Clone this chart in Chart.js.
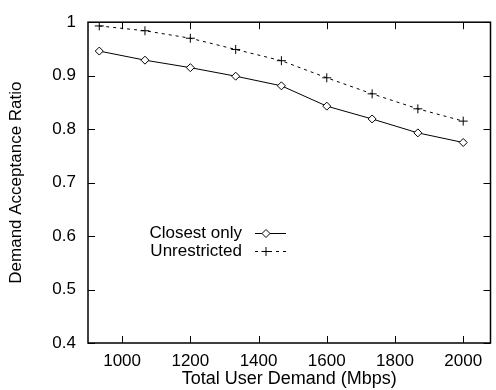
<!DOCTYPE html>
<html>
<head>
<meta charset="utf-8">
<script src="https://cdn.jsdelivr.net/npm/chart.js@4/dist/chart.umd.min.js"></script>
<style>
  html, body { margin: 0; padding: 0; background: #fff; }
  #wrap { width: 496px; height: 390px; }
</style>
</head>
<body>
<div id="wrap"><canvas id="chart" width="496" height="390"></canvas></div>
<script>
// Data
const demand = [933, 1067, 1200, 1333, 1467, 1600, 1733, 1867, 2000];
const closestOnly = [0.946, 0.929, 0.915, 0.899, 0.881, 0.843, 0.819, 0.793, 0.775];
const unrestricted = [0.993, 0.984, 0.970, 0.949, 0.928, 0.896, 0.866, 0.838, 0.815];
const xTicks = [1000, 1200, 1400, 1600, 1800, 2000];
const yTicks = [0.4, 0.5, 0.6, 0.7, 0.8, 0.9, 1];
const seriesNames = ['Closest only', 'Unrestricted'];

const FONT = "'Liberation Sans', Arial, sans-serif";
Chart.defaults.font.family = FONT;
Chart.defaults.color = '#000';

const toPoints = ys => demand.map((x, i) => ({ x: x, y: ys[i] }));

// gnuplot-style frame with inward ticks on all four sides
const framePlugin = {
    id: 'frame',
    afterDatasetsDraw(chart) {
        const { ctx, chartArea: a, scales } = chart;
        const len = 7;
        ctx.save();
        ctx.strokeStyle = '#000';
        ctx.lineWidth = 1;
        ctx.beginPath();
        xTicks.forEach(v => {
            const px = Math.round(scales.x.getPixelForValue(v)) + 0.5;
            ctx.moveTo(px, a.bottom); ctx.lineTo(px, a.bottom - len);
            ctx.moveTo(px, a.top); ctx.lineTo(px, a.top + len);
        });
        yTicks.forEach(v => {
            const py = Math.round(scales.y.getPixelForValue(v)) + 0.5;
            ctx.moveTo(a.left, py); ctx.lineTo(a.left + len, py);
            ctx.moveTo(a.right, py); ctx.lineTo(a.right - len, py);
        });
        ctx.stroke();
        ctx.lineWidth = 1.5;
        ctx.strokeRect(a.left, a.top, a.right - a.left, a.bottom - a.top);
        ctx.restore();
    }
};

// legend inside the plot: text right-aligned, sample line to its right
const legendPlugin = {
    id: 'gpLegend',
    afterDatasetsDraw(chart) {
        const { ctx } = chart;
        const textRight = 242, x0 = 255, x1 = 286, xm = 266;
        const rows = [233, 251];
        ctx.save();
        ctx.font = '17px ' + FONT;
        ctx.fillStyle = '#000';
        ctx.textAlign = 'right';
        ctx.textBaseline = 'middle';
        rows.forEach((y, i) => {
            ctx.fillText(seriesNames[i], textRight, y);
            const ds = chart.data.datasets[i];
            ctx.beginPath();
            ctx.setLineDash(ds.borderDash || []);
            ctx.strokeStyle = '#000';
            ctx.lineWidth = 1;
            ctx.moveTo(x0, y + 0.5); ctx.lineTo(x1, y + 0.5);
            ctx.stroke();
            ctx.setLineDash([]);
            ctx.fillStyle = '#fff';
            Chart.helpers.drawPoint(ctx, {
                pointStyle: ds.pointStyle,
                radius: ds.pointRadius,
                borderWidth: 1
            }, xm, y + 0.5);
            ctx.fillStyle = '#000';
        });
        ctx.restore();
    }
};

new Chart(document.getElementById('chart'), {
    type: 'line',
    data: {
        datasets: [
            {
                label: seriesNames[0],
                data: toPoints(closestOnly),
                borderColor: '#000',
                borderWidth: 1,
                pointStyle: 'rectRot',
                pointRadius: 4,
                pointBackgroundColor: '#fff',
                pointBorderColor: '#000',
                pointBorderWidth: 1,
                tension: 0
            },
            {
                label: seriesNames[1],
                data: toPoints(unrestricted),
                borderColor: '#000',
                borderWidth: 1,
                borderDash: [3, 4],
                pointStyle: 'cross',
                pointRadius: 4.5,
                pointBorderColor: '#000',
                pointBorderWidth: 1,
                tension: 0
            }
        ]
    },
    options: {
        responsive: false,
        animation: false,
        layout: { padding: { top: 12, right: 1, left: 0, bottom: 0 } },
        plugins: { legend: { display: false }, tooltip: { enabled: false } },
        scales: {
            x: {
                type: 'linear',
                min: 900,
                max: 2080,
                afterBuildTicks: s => { s.ticks = xTicks.map(v => ({ value: v })); },
                afterFit: s => { s.height = 47; },
                grid: { display: false, drawTicks: false },
                border: { display: false },
                ticks: { font: { size: 17 }, padding: 8, maxRotation: 0, autoSkip: false, callback: v => String(v) },
                title: { display: true, text: 'Total User Demand (Mbps)', font: { size: 18 }, padding: { top: -6, bottom: 0 } }
            },
            y: {
                min: 0.4,
                max: 1,
                afterBuildTicks: s => { s.ticks = yTicks.map(v => ({ value: v })); },
                afterFit: s => { s.width = 88; },
                grid: { display: false, drawTicks: false },
                border: { display: false },
                ticks: {
                    font: { size: 17 },
                    padding: 12,
                    callback: v => String(Math.round(v * 10) / 10)
                },
                title: { display: true, text: 'Demand Acceptance Ratio', font: { size: 17 }, padding: { top: 6, bottom: 0 } }
            }
        }
    },
    plugins: [framePlugin, legendPlugin]
});
</script>
</body>
</html>
